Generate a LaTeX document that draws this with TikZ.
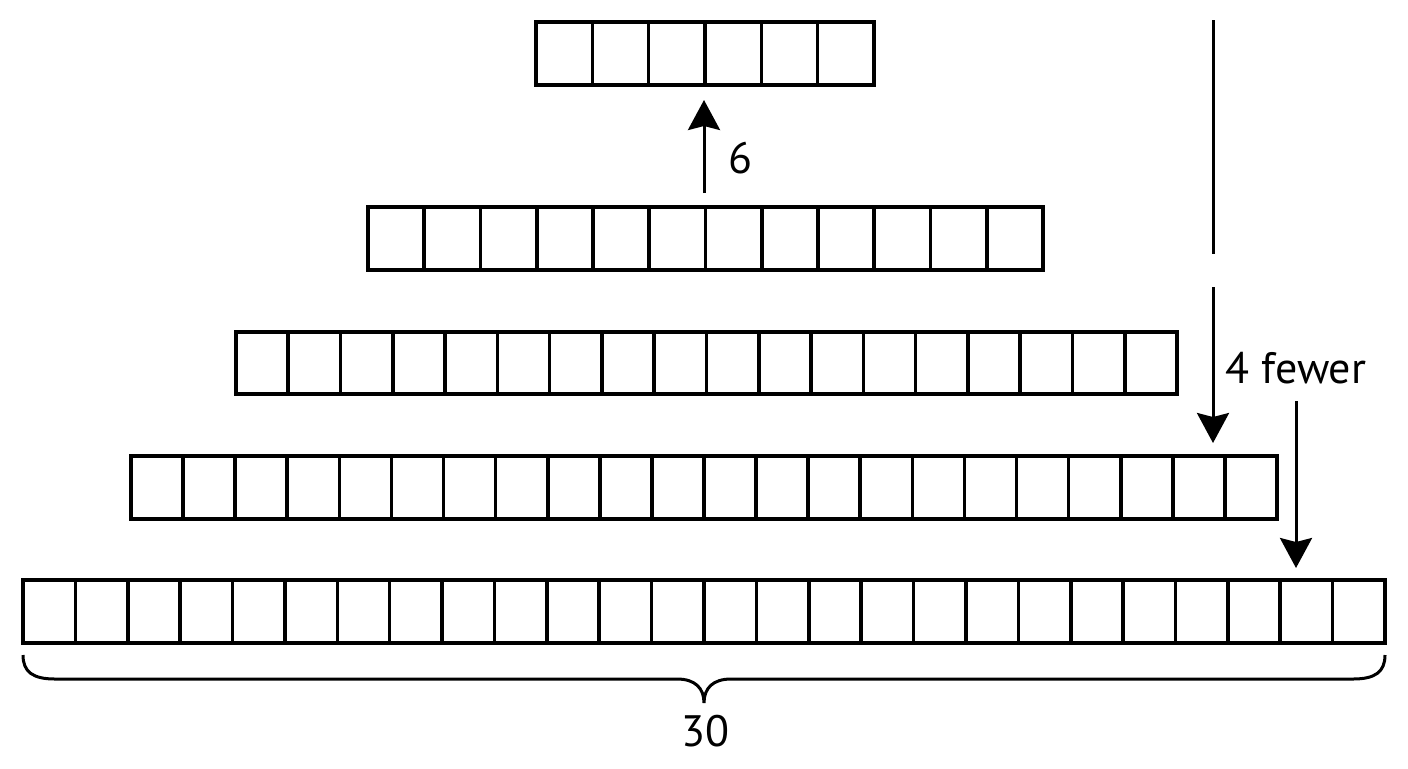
\documentclass[tikz,border=0pt]{standalone}
\usepackage{fontspec}
\setmainfont{PT Sans}
\usetikzlibrary{arrows.meta}
\tikzset{
  cell/.style={draw, line width=1.8pt},
  arr/.style={line width=1.5pt, -{Stealth[length=15pt,width=16pt,inset=2pt]}},
  lbl/.style={font=\fontsize{22}{26}\selectfont, inner sep=0pt, anchor=base},
}
\begin{document}
\begin{tikzpicture}[x=0.5pt, y=-0.5pt]
\useasboundingbox (0,0) rectangle (1408,768);

% draw rows of boxes
% cells / left / right / top / bottom
\foreach \n/\xa/\xb/\ya/\yb [count=\r] in {6/536/874/22/85, 12/368/1043/207/270, 18/236/1177/332/394, 22/131/1277/456/519, 26/23/1385/580/643}
{
  \node[cell, inner sep=0pt, outer sep=0pt, minimum width={(\xb-\xa)*0.5pt}, minimum height={(\yb-\ya)*0.5pt}] (row\r) at ({(\xa+\xb)/2},{(\ya+\yb)/2}) {};
  \pgfmathsetmacro\w{(\xb-\xa)/\n}
  \pgfmathtruncatemacro\m{\n-1}
  \foreach \i in {1,...,\m}
    \draw[cell] ({\xa+\i*\w},\ya) -- ({\xa+\i*\w},\yb);
}

% arrow up, 6
\coordinate (up-tail) at (704,193);
\coordinate (up-tip) at (704,100);
\draw[arr] (up-tail) -- (up-tip);
\node[lbl] (six) at (740,173) {6};

% right side: bar and the two arrows
\coordinate (bar-top) at (1213,20);
\coordinate (bar-bot) at (1213,254);
\draw[line width=1.5pt] (bar-top) -- (bar-bot);

\coordinate (a-tail) at (1213,287);
\coordinate (a-tip) at (1213,443);
\draw[arr] (a-tail) -- (a-tip);

\node[lbl] (fewer) at (1296,383) {4 fewer};

\coordinate (b-tail) at (1296,401);
\coordinate (b-tip) at (1296,568);
\draw[arr] (b-tail) -- (b-tip);

% brace under the bottom row
\draw[line width=1.5pt] (23,655) .. controls (23,672) and (33,679) .. (55,679) -- (677,679)
  .. controls (695,679) and (704,688) .. (704,703)
  .. controls (704,688) and (713,679) .. (731,679) -- (1353,679)
  .. controls (1375,679) and (1385,672) .. (1385,655);
\node[lbl] (total) at (705,746) {30};

\end{tikzpicture}
\end{document}
